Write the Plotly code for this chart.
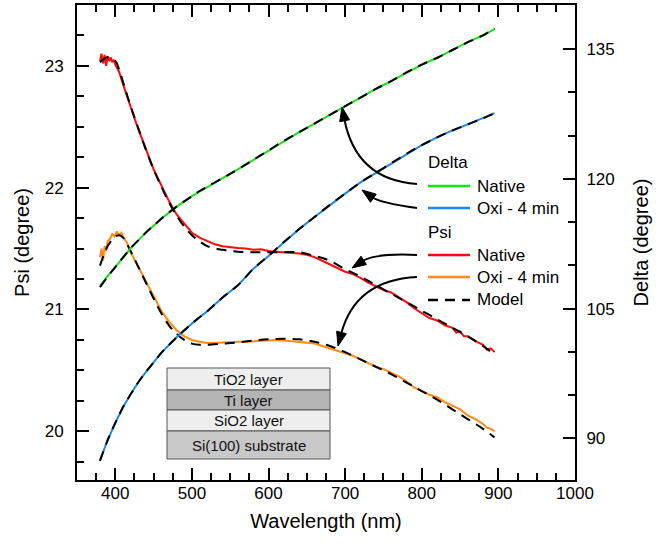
import plotly.graph_objects as go

# ---------------- data ----------------
wl_red = [380, 382, 384, 386, 388, 390, 392, 394, 396, 398, 400, 405, 410, 415, 420, 425, 430, 440, 450,
          460, 470, 480, 490, 500, 510, 520, 530, 540, 550, 560, 570, 580, 590, 600, 610, 620, 630, 640,
          650, 660, 670, 680, 690, 700, 710, 720, 730, 740, 750, 760, 770, 780, 790, 800, 810, 820, 830,
          840, 845, 850, 855, 860, 870, 880, 885, 890, 895]
psi_native = [23.04, 23.10, 23.02, 23.09, 23.00, 23.08, 23.04, 23.07, 23.03, 23.05, 23.01, 22.95, 22.85,
              22.75, 22.66, 22.57, 22.48, 22.31, 22.15, 22.02, 21.89, 21.78, 21.70, 21.63, 21.59, 21.56,
              21.535, 21.52, 21.51, 21.505, 21.50, 21.49, 21.495, 21.48, 21.475, 21.47, 21.47, 21.46,
              21.45, 21.43, 21.40, 21.37, 21.34, 21.31, 21.29, 21.26, 21.22, 21.19, 21.16, 21.14, 21.10,
              21.06, 21.01, 20.97, 20.93, 20.91, 20.87, 20.85, 20.81, 20.82, 20.78, 20.78, 20.74, 20.71,
              20.67, 20.68, 20.65]

wl_orange = [380, 382, 384, 386, 388, 390, 393, 396, 399, 402, 405, 408, 411, 415, 420, 425, 430, 440, 450,
             460, 470, 480, 490, 500, 510, 520, 530, 540, 550, 560, 570, 580, 590, 600, 610, 620, 630, 640,
             650, 660, 670, 680, 690, 700, 710, 720, 730, 740, 750, 760, 770, 780, 790, 800, 810, 820, 830,
             840, 850, 860, 870, 880, 885, 890, 895]
psi_oxi = [21.43, 21.50, 21.40, 21.52, 21.48, 21.56, 21.58, 21.62, 21.60, 21.64, 21.61, 21.63, 21.59, 21.55,
           21.47, 21.41, 21.35, 21.23, 21.10, 20.99, 20.90, 20.83, 20.78, 20.75, 20.735, 20.725, 20.725,
           20.73, 20.73, 20.735, 20.735, 20.74, 20.745, 20.75, 20.75, 20.745, 20.74, 20.735, 20.73, 20.72,
           20.70, 20.68, 20.66, 20.64, 20.62, 20.59, 20.56, 20.53, 20.51, 20.48, 20.45, 20.41, 20.36, 20.33,
           20.30, 20.28, 20.24, 20.21, 20.18, 20.13, 20.10, 20.06, 20.03, 20.02, 20.00]

wl_delta = [380, 390, 400, 410, 420, 430, 440, 460, 480, 500, 520, 540, 560, 580, 600, 620, 640, 660, 680,
            700, 720, 740, 760, 780, 800, 820, 840, 860, 880, 895]
delta_native = [107.6, 108.8, 109.8, 110.9, 112.0, 112.9, 113.8, 115.4, 116.8, 118.0, 119.1, 120.1, 121.1,
                122.2, 123.3, 124.4, 125.4, 126.4, 127.4, 128.4, 129.4, 130.4, 131.3, 132.3, 133.2, 134.0,
                134.9, 135.8, 136.6, 137.3]
delta_oxi = [87.5, 89.8, 91.8, 93.6, 95.1, 96.5, 97.7, 99.9, 101.7, 103.3, 104.7, 106.3, 107.7, 109.6, 111.1,
             112.7, 114.2, 115.6, 117.0, 118.3, 119.6, 120.7, 121.8, 122.9, 123.9, 124.8, 125.6, 126.3,
             127.0, 127.6]

wl_model = [380, 390, 400, 405, 410, 420, 430, 440, 450, 460, 470, 480, 490, 500, 510, 520, 540, 560, 580,
            600, 620, 640, 660, 680, 700, 720, 740, 760, 780, 800, 820, 840, 860, 880, 895]
model_psi_native = [23.03, 23.07, 23.04, 22.97, 22.87, 22.67, 22.49, 22.31, 22.15, 22.01, 21.88, 21.77,
                    21.68, 21.61, 21.56, 21.52, 21.49, 21.475, 21.47, 21.47, 21.47, 21.47, 21.44, 21.40,
                    21.33, 21.27, 21.20, 21.13, 21.06, 20.99, 20.92, 20.85, 20.78, 20.70, 20.63]
model_psi_oxi = [21.36, 21.52, 21.60, 21.61, 21.59, 21.48, 21.35, 21.22, 21.09, 20.97, 20.87, 20.80, 20.75,
                 20.72, 20.71, 20.71, 20.72, 20.73, 20.745, 20.755, 20.76, 20.755, 20.735, 20.70, 20.65,
                 20.59, 20.53, 20.47, 20.40, 20.33, 20.26, 20.18, 20.10, 20.02, 19.95]
model_delta_native = [107.5, 108.7, 109.8, 110.4, 110.9, 112.0, 112.9, 113.8, 114.6, 115.4, 116.1, 116.8,
                      117.4, 118.0, 118.6, 119.1, 120.1, 121.1, 122.2, 123.3, 124.4, 125.4, 126.4, 127.4,
                      128.4, 129.4, 130.4, 131.3, 132.3, 133.2, 134.0, 134.9, 135.8, 136.6, 137.4]
model_delta_oxi = [87.4, 89.8, 91.8, 92.7, 93.6, 95.1, 96.5, 97.7, 98.8, 99.9, 100.8, 101.7, 102.5, 103.3,
                   104.0, 104.7, 106.3, 107.7, 109.6, 111.1, 112.7, 114.2, 115.6, 117.0, 118.3, 119.6,
                   120.7, 121.8, 122.9, 123.9, 124.8, 125.6, 126.3, 127.0, 127.6]

layer_labels = ["TiO2 layer", "Ti layer", "SiO2 layer", "Si(100) substrate"]
legend_headers = ["Delta", "Psi"]
legend_names = ["Native", "Oxi - 4 min", "Native", "Oxi - 4 min", "Model"]

for a, b in [(wl_red, psi_native), (wl_orange, psi_oxi), (wl_delta, delta_native), (wl_delta, delta_oxi),
             (wl_model, model_psi_native), (wl_model, model_psi_oxi), (wl_model, model_delta_native),
             (wl_model, model_delta_oxi)]:
    assert len(a) == len(b), (len(a), len(b))

# ---------------- style ----------------
FONT = "Arial, Liberation Sans, Helvetica, sans-serif"
GREEN, BLUE, RED, ORANGE = "#14e614", "#1a86f0", "#ff0a0a", "#ff8a14"
W, H = 672, 546
PL, PR, PT, PB = 77, 575, 5, 480


def px(xp):
    return (xp - PL) / (PR - PL)


def py(yp):
    return (PB - yp) / (PB - PT)


fig = go.Figure()
fig.add_trace(go.Scatter(x=wl_delta, y=delta_native, yaxis="y2", mode="lines", name="Delta Native",
                         line=dict(color=GREEN, width=2)))
fig.add_trace(go.Scatter(x=wl_delta, y=delta_oxi, yaxis="y2", mode="lines", name="Delta Oxi - 4 min",
                         line=dict(color=BLUE, width=2)))
fig.add_trace(go.Scatter(x=wl_red, y=psi_native, mode="lines", name="Psi Native",
                         line=dict(color=RED, width=2)))
fig.add_trace(go.Scatter(x=wl_orange, y=psi_oxi, mode="lines", name="Psi Oxi - 4 min",
                         line=dict(color=ORANGE, width=2)))
dash = dict(color="black", width=2, dash="10px,7px")
for yv, ax in [(model_delta_native, "y2"), (model_delta_oxi, "y2"), (model_psi_native, "y"),
               (model_psi_oxi, "y")]:
    fig.add_trace(go.Scatter(x=wl_model, y=yv, yaxis=ax, mode="lines", line=dash, name="Model",
                             line_shape="spline"))

axis_common = dict(showline=True, linecolor="black", linewidth=2, ticks="inside", tickcolor="black",
                   tickwidth=2, ticklen=12, showgrid=False, zeroline=False,
                   tickfont=dict(family=FONT, size=17, color="black"))

fig.update_layout(
    width=W, height=H, showlegend=False,
    margin=dict(l=PL, r=W - PR, t=PT, b=H - PB, autoexpand=False),
    paper_bgcolor="white", plot_bgcolor="white",
    font=dict(family=FONT, size=16, color="black"),
    xaxis=dict(range=[350, 1000], dtick=100, tick0=0, mirror="ticks",
               minor=dict(dtick=25, ticks="inside", ticklen=7, tickwidth=2, tickcolor="black"),
               title=dict(text="Wavelength (nm)", font=dict(family=FONT, size=20), standoff=12),
               ticklabelstandoff=-3, **axis_common),
    yaxis=dict(range=[19.6, 23.5], dtick=1, tick0=0,
               minor=dict(dtick=0.25, ticks="inside", ticklen=7, tickwidth=2, tickcolor="black"),
               title=dict(text="Psi (degree)", font=dict(family=FONT, size=20), standoff=10),
               ticklabelstandoff=8, **axis_common),
    yaxis2=dict(range=[85.2, 140.1], dtick=15, tick0=0, overlaying="y", side="right", anchor="x",
                minor=dict(dtick=5, ticks="inside", ticklen=7, tickwidth=2, tickcolor="black"),
                title=dict(text="Delta (degree)", font=dict(family=FONT, size=20), standoff=20),
                ticklabelstandoff=6, **axis_common),
)

shapes = []
annotations = []

# ---------------- legend (drawn as text + line samples) ----------------
LX0, LX1, LT = 428, 470, 475
header_rows = [(162, legend_headers[0]), (232, legend_headers[1])]
item_rows = [(186, GREEN, "solid"), (208, BLUE, "solid"), (255, RED, "solid"), (277, ORANGE, "solid"),
             (300, "black", "10px,7px")]
for yy, txt in header_rows:
    annotations.append(dict(xref="paper", yref="paper", x=px(LX0 - 2), y=py(yy), text=txt, showarrow=False,
                            xanchor="left", yanchor="middle", font=dict(family=FONT, size=17, color="black")))
for (yy, col, ds), txt in zip(item_rows, legend_names):
    shapes.append(dict(type="line", xref="paper", yref="paper", x0=px(LX0), x1=px(LX1), y0=py(yy), y1=py(yy),
                       line=dict(color=col, width=2.5, dash=ds)))
    annotations.append(dict(xref="paper", yref="paper", x=px(LT), y=py(yy), text=txt, showarrow=False,
                            xanchor="left", yanchor="middle", font=dict(family=FONT, size=17, color="black")))

# ---------------- curved arrows from the legend ----------------
arrows = [  # start, control, tip (pixel positions)
    ((417, 184), (356, 180), (342, 107)),
    ((417, 208), (380, 203), (362, 190)),
    ((417, 255), (375, 253), (352, 268)),
    ((417, 277), (355, 280), (338, 346)),
]
for (x0, y0), (cx, cy), (tx, ty) in arrows:
    dx, dy = tx - cx, ty - cy
    n = (dx * dx + dy * dy) ** 0.5
    ux, uy = dx / n, dy / n
    L, Wd = 14, 5
    bx, by = tx - L * ux, ty - L * uy
    shapes.append(dict(type="path", xref="paper", yref="paper",
                       path=f"M{px(x0)},{py(y0)} Q{px(cx)},{py(cy)} {px(bx + 2*ux)},{py(by + 2*uy)}",
                       line=dict(color="black", width=2)))
    p1 = (bx - Wd * uy, by + Wd * ux)
    p2 = (bx + Wd * uy, by - Wd * ux)
    shapes.append(dict(type="path", xref="paper", yref="paper",
                       path=f"M{px(tx)},{py(ty)} L{px(p1[0])},{py(p1[1])} L{px(p2[0])},{py(p2[1])} Z",
                       fillcolor="black", line=dict(color="black", width=1)))

# ---------------- layer stack inset ----------------
rows = [(368, 390, "#eeeeee"), (390, 410, "#b4b4b4"), (410, 431, "#eeeeee"), (431, 459, "#c8c8c8")]
bx0, bx1 = 167, 330
for (r0, r1, col), lab in zip(rows, layer_labels):
    shapes.append(dict(type="rect", xref="paper", yref="paper", x0=px(bx0), x1=px(bx1), y0=py(r1), y1=py(r0),
                       fillcolor=col, line=dict(color="#555555", width=1), layer="above"))
    annotations.append(dict(xref="paper", yref="paper", x=px((bx0 + bx1) / 2), y=py((r0 + r1) / 2),
                            text=lab, showarrow=False, font=dict(family=FONT, size=15, color="#111111"),
                            xanchor="center", yanchor="middle"))

fig.update_layout(shapes=shapes, annotations=annotations)
fig.write_html("out.html", config={"displayModeBar": False},
               post_script="document.body.style.margin='0';document.body.style.overflow='hidden';")
